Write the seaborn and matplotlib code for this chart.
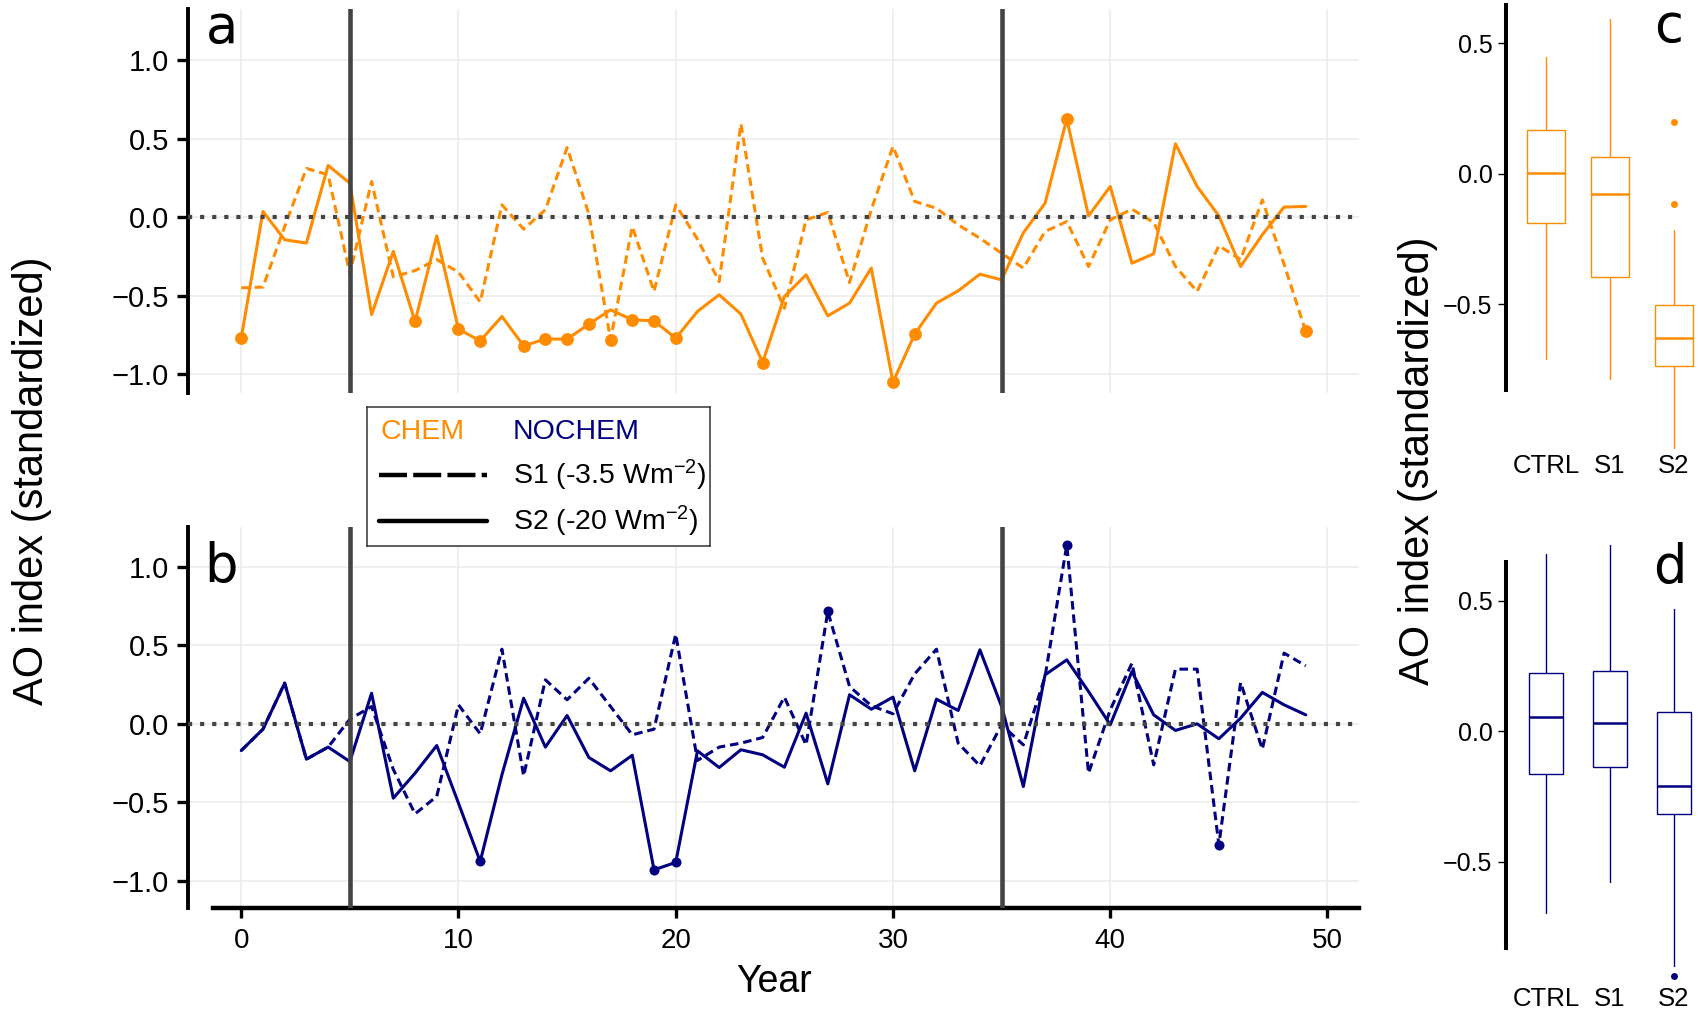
import numpy as np
import pandas as pd
import matplotlib
matplotlib.use("Agg")
import matplotlib.pyplot as plt
from matplotlib.lines import Line2D
from matplotlib.ticker import FuncFormatter
import seaborn as sns

# ---------------------------------------------------------------- data
years = list(range(50))

# Arctic Oscillation index, standardized, per simulation year
chem_s1 = [-0.45, -0.445, -0.06, 0.31, 0.27, -0.36, 0.227, -0.38, -0.34, -0.27,
           -0.35, -0.54, 0.078, -0.076, 0.047, 0.443, 0.02, -0.78, -0.06, -0.473,
           0.078, -0.14, -0.41, 0.594, -0.26, -0.58, -0.017, 0.03, -0.416, 0.047,
           0.45, 0.10, 0.057, -0.049, -0.134, -0.23, -0.324, -0.091, -0.028, -0.314,
           -0.017, 0.051, -0.034, -0.314, -0.473, -0.182, -0.27, 0.11, -0.30, -0.727]
chem_s2 = [-0.77, 0.036, -0.144, -0.165, 0.329, 0.216, -0.62, -0.218, -0.664, -0.119,
           -0.713, -0.787, -0.632, -0.819, -0.776, -0.776, -0.681, -0.59, -0.653, -0.66,
           -0.77, -0.60, -0.494, -0.617, -0.925, -0.505, -0.367, -0.628, -0.547, -0.324,
           -1.05, -0.744, -0.547, -0.469, -0.363, -0.399, -0.10, 0.089, 0.624, 0.008,
           0.195, -0.293, -0.233, 0.467, 0.195, 0.008, -0.314, -0.112, 0.064, 0.068]
nochem_s1 = [-0.17, -0.034, 0.259, -0.225, -0.148, 0.03, 0.11, -0.29, -0.573, -0.462,
             0.121, -0.064, 0.475, -0.331, 0.28, 0.153, 0.29, 0.11, -0.07, -0.034,
             0.57, -0.233, -0.148, -0.123, -0.087, 0.17, -0.134, 0.715, 0.238, 0.115,
             0.064, 0.318, 0.475, -0.123, -0.267, -0.006, -0.134, 0.301, 1.139, -0.314,
             0.089, 0.386, -0.261, 0.348, 0.348, -0.77, 0.263, -0.161, 0.45, 0.369]
nochem_s2 = [-0.17, -0.034, 0.259, -0.225, -0.148, -0.24, 0.195, -0.473, -0.314, -0.138,
             -0.505, -0.876, -0.324, 0.163, -0.148, 0.053, -0.214, -0.299, -0.2, -0.929,
             -0.882, -0.172, -0.278, -0.165, -0.197, -0.276, 0.068, -0.382, 0.185, 0.093,
             0.17, -0.299, 0.157, 0.085, 0.471, 0.11, -0.399, 0.312, 0.407, 0.206,
             -0.006, 0.333, 0.057, -0.042, 0.0, -0.095, 0.036, 0.2, 0.121, 0.057]

# years highlighted with a dot
chem_s1_marked = [17, 49]
chem_s2_marked = [0, 8, 10, 11, 13, 14, 15, 16, 18, 19, 20, 24, 30, 31, 38]
nochem_s1_marked = [27, 38, 45]
nochem_s2_marked = [11, 19, 20]

# start and end of the forcing period
forcing_years = [5, 35]

# box summaries for the control run and the forcing period of S1 / S2
box_labels = ["CTRL", "S1", "S2"]
chem_whislo = [-0.711, -0.786, -1.052]
chem_q1 = [-0.189, -0.398, -0.739]
chem_med = [0.003, -0.077, -0.630]
chem_q3 = [0.169, 0.064, -0.504]
chem_whishi = [0.448, 0.593, -0.215]
chem_fliers = [[], [], [0.198, -0.115]]

nochem_whislo = [-0.695, -0.579, -0.899]
nochem_q1 = [-0.165, -0.139, -0.318]
nochem_med = [0.056, 0.032, -0.209]
nochem_q3 = [0.222, 0.231, 0.074]
nochem_whishi = [0.678, 0.714, 0.467]
nochem_fliers = [[], [], [-0.937]]

CHEM_COLOR = "#FF8C00"
NOCHEM_COLOR = "#000080"

# ---------------------------------------------------------------- style
sns.set_style("white")
plt.rcParams["font.family"] = ["Liberation Sans", "DejaVu Sans"]
plt.rcParams["mathtext.default"] = "regular"
plt.rcParams["axes.unicode_minus"] = True
plt.rcParams["text.color"] = "black"
plt.rcParams["axes.labelcolor"] = "black"
plt.rcParams["xtick.color"] = "black"
plt.rcParams["ytick.color"] = "black"
plt.rcParams["xtick.labelcolor"] = "black"
plt.rcParams["ytick.labelcolor"] = "black"

W, H = 1702, 1015
fig = plt.figure(figsize=(W / 100, H / 100), dpi=100)
fig.patch.set_facecolor("white")

one_decimal = FuncFormatter(lambda v, pos: f"{v:.1f}".replace("-", "\u2212"))


def rect(left, top, right, bottom):
    return [left / W, 1 - bottom / H, (right - left) / W, (bottom - top) / H]


def series_panel(ax, s1, s2, m1, m2, color, dot_size, ylim):
    df = pd.DataFrame({
        "year": years + years,
        "ao": s1 + s2,
        "scenario": ["S1"] * len(years) + ["S2"] * len(years),
    })
    ax.axhline(0, color="#444444", lw=3.0, dashes=(1.0, 1.9), zorder=3)
    for yr in forcing_years:
        ax.axvline(yr, color="#444444", lw=3.3, zorder=4)
    sns.lineplot(data=df, x="year", y="ao", style="scenario", style_order=["S1", "S2"],
                 dashes={"S1": (2.8, 1.6), "S2": ""}, color=color, linewidth=2.2,
                 errorbar=None, legend=False, ax=ax, zorder=2)
    marked = df[((df["scenario"] == "S1") & df["year"].isin(m1)) |
                ((df["scenario"] == "S2") & df["year"].isin(m2))]
    sns.scatterplot(data=marked, x="year", y="ao", color=color, s=dot_size,
                    linewidth=0, legend=False, ax=ax, zorder=5)
    ax.set_xlim(-2.45, 51.45)
    ax.set_ylim(*ylim)
    ax.set_xticks(range(0, 51, 10))
    ax.set_yticks([-1.0, -0.5, 0.0, 0.5, 1.0])
    ax.yaxis.set_major_formatter(one_decimal)
    ax.grid(True, color="#EBEBEB", lw=1.1)
    ax.set_axisbelow(True)
    ax.set_xlabel("")
    ax.set_ylabel("")
    for side in ["top", "right", "bottom"]:
        ax.spines[side].set_visible(False)
    ax.spines["left"].set_color("black")
    ax.spines["left"].set_linewidth(2.8)
    ax.tick_params(axis="y", direction="out", length=7.7, width=2.4, color="black",
                   labelcolor="black", labelsize=21, pad=6, left=True)
    ax.set_facecolor("white")


def box_panel(ax, whislo, q1, med, q3, whishi, fliers, color, width, ylim):
    stats = [dict(label=lab, whislo=a, q1=b, med=c, q3=d, whishi=e, fliers=f)
             for lab, a, b, c, d, e, f in zip(box_labels, whislo, q1, med, q3, whishi, fliers)]
    arts = ax.bxp(stats, positions=[0, 1, 2], widths=width, patch_artist=True,
                  showcaps=False,
                  boxprops=dict(facecolor="white", edgecolor=color, linewidth=1.0),
                  whiskerprops=dict(color=color, linewidth=1.0),
                  medianprops=dict(color=color, linewidth=1.8),
                  flierprops=dict(marker="o", markerfacecolor=color,
                                  markeredgecolor="none", markersize=5))
    for group in arts.values():
        for art in group:
            art.set_clip_on(False)
    ax.set_xlim(-0.625, 2.4375)
    ax.set_ylim(*ylim)
    ax.set_xticks([0, 1, 2])
    ax.set_xticklabels(box_labels)
    ax.set_yticks([-0.5, 0.0, 0.5])
    ax.yaxis.set_major_formatter(one_decimal)
    ax.grid(False)
    for side in ["top", "right", "bottom"]:
        ax.spines[side].set_visible(False)
    ax.spines["left"].set_color("black")
    ax.spines["left"].set_linewidth(2.9)
    ax.spines["left"].set_bounds(-0.83, ylim[1])
    ax.tick_params(axis="y", direction="out", length=5.8, width=1.0, color="black",
                   labelcolor="black", labelsize=18, pad=4, left=True)
    ax.tick_params(axis="x", length=0, labelsize=18.5, labelcolor="black", pad=1.5)
    ax.set_facecolor("none")


# ---------------------------------------------------------------- panel a
ax_a = fig.add_axes(rect(188, 9, 1359, 393))
series_panel(ax_a, chem_s1, chem_s2, chem_s1_marked, chem_s2_marked,
             CHEM_COLOR, 85, (-1.119, 1.3245))
ax_a.tick_params(axis="x", bottom=False, labelbottom=False)

# ---------------------------------------------------------------- panel b
ax_b = fig.add_axes(rect(188, 526.7, 1359, 908))
series_panel(ax_b, nochem_s1, nochem_s2, nochem_s1_marked, nochem_s2_marked,
             NOCHEM_COLOR, 52, (-1.172, 1.2545))
ax_b.spines["bottom"].set_visible(True)
ax_b.spines["bottom"].set_color("black")
ax_b.spines["bottom"].set_linewidth(3.2)
ax_b.spines["bottom"].set_bounds(-1.3, 51.45)
ax_b.tick_params(axis="x", direction="out", length=7.5, width=2.4, color="black",
                 labelcolor="black", labelsize=20, pad=7, bottom=True)

# ---------------------------------------------------------------- panels c, d
ax_c = fig.add_axes(rect(1506, 5, 1702, 452))
box_panel(ax_c, chem_whislo, chem_q1, chem_med, chem_q3, chem_whishi, chem_fliers,
          CHEM_COLOR, 0.59, (-1.0677, 0.647))

ax_d = fig.add_axes(rect(1506, 561.7, 1702, 985))
box_panel(ax_d, nochem_whislo, nochem_q1, nochem_med, nochem_q3, nochem_whishi,
          nochem_fliers, NOCHEM_COLOR, 0.52, (-0.9724, 0.6494))

# ---------------------------------------------------------------- labels
fig.text(32 / W, 1 - 481 / H, "AO index (standardized)", rotation=90,
         fontsize=30, color="black", ha="center", va="center")
fig.text(1418 / W, 1 - 461 / H, "AO index (standardized)", rotation=90,
         fontsize=30, color="black", ha="center", va="center")
fig.text(774 / W, 1 - 982 / H, "Year", fontsize=27, color="black",
         ha="center", va="center")

for letter, (lx, ly) in zip("abcd", [(206, 43), (204, 582), (1654, 42), (1653, 583)]):
    fig.text(lx / W, 1 - ly / H, letter, fontsize=38, family="DejaVu Sans",
             color="black", ha="left", va="baseline")

# ---------------------------------------------------------------- key
leg = fig.add_axes(rect(367, 407, 710, 546))
leg.set_zorder(10)
leg.set_xlim(0, 1)
leg.set_ylim(0, 1)
leg.set_xticks([])
leg.set_yticks([])
leg.patch.set_facecolor("white")
for sp in leg.spines.values():
    sp.set_visible(True)
    sp.set_color("#333333")
    sp.set_linewidth(1.1)
leg.text(0.038, 0.82, "CHEM", color=CHEM_COLOR, fontsize=20.5, ha="left", va="center")
leg.text(0.4257, 0.82, "NOCHEM", color=NOCHEM_COLOR, fontsize=20.5, ha="left", va="center")
leg.add_line(Line2D([0.035, 0.35], [0.511, 0.511], color="black", lw=3.2,
                    dashes=(6.3, 1.4), transform=leg.transAxes))
leg.add_line(Line2D([0.035, 0.35], [0.18, 0.18], color="black", lw=3.2,
                    transform=leg.transAxes))
leg.text(0.4257, 0.511, "S1 (-3.5 Wm$^{-2}$)", fontsize=20.5, color="black",
         ha="left", va="center")
leg.text(0.4257, 0.18, "S2 (-20 Wm$^{-2}$)", fontsize=20.5, color="black",
         ha="left", va="center")

fig.savefig("out.png", dpi=100, facecolor="white")
